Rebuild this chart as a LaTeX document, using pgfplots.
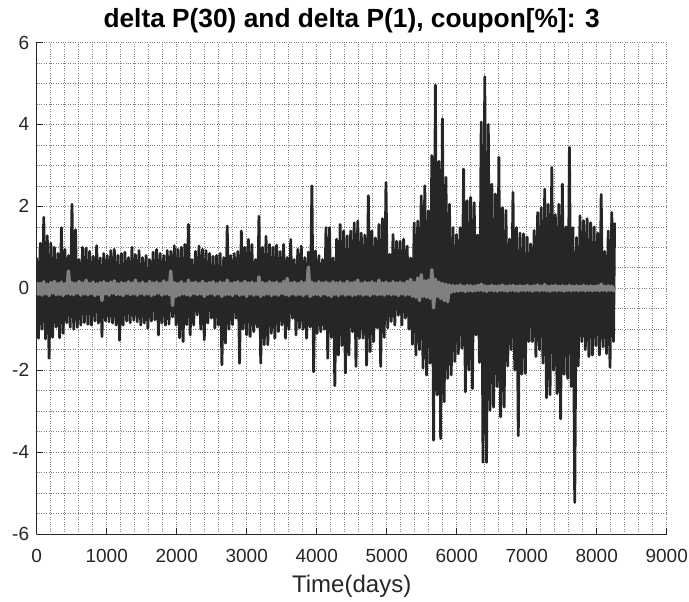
\documentclass[border=0pt]{standalone}
\usepackage{fontspec}
\setmainfont{Liberation Sans}
\usepackage{pgfplots}
\pgfplotsset{compat=1.18}
\definecolor{dk}{RGB}{38,38,38}
\definecolor{lg}{RGB}{128,128,128}
\begin{document}
\begin{tikzpicture}
\begin{axis}[name=ax, scale only axis, width=630pt, height=491.5pt,
  xmin=0, xmax=9000, ymin=-6, ymax=6,
  axis x line*=bottom, axis y line*=left,
  axis line style={dk, line width=0.8pt},
  xtick={0,1000,...,9000},
  xticklabels={0,1000,2000,3000,4000,5000,6000,7000,8000,9000},
  ytick={-6,-4,...,6}, yticklabels={-6,-4,-2,0,2,4,6},
  minor x tick num=4, minor y tick num=3,
  grid=both,
  major grid style={dotted, gray, line width=0.6pt},
  minor grid style={dotted, gray, line width=0.6pt},
  tick align=inside, major tick length=6pt, minor tick length=0pt,
  tick style={dk, line width=0.8pt},
  ticklabel style={font=\fontsize{19}{20}\selectfont, text=dk},
  xticklabel style={anchor=center, inner sep=0pt, yshift=-21.7pt},
  yticklabel style={anchor=east, inner sep=0pt, xshift=-7.4pt},
  xlabel={Time(days)},
  xlabel style={font=\fontsize{24}{26}\selectfont, text=dk,
    at={(axis description cs:0.5,0)}, anchor=center, yshift=-52pt},
  title={delta P(30) and delta P(1), coupon[\%]: 3},
  title style={font=\fontsize{26.3}{28}\selectfont\bfseries},
]
\addplot[dk, line width=2.8pt, line join=round] coordinates {
(0,0.75)(25.2,-1.22)(50.4,1.1)(75.6,-1.0)(100.8,1.73)(126,-1.24)(151.2,1.28)(176.4,-1.71)(201.6,1.1)(226.8,-1.2)
(252,1.0)(277.2,-0.95)(302.4,0.85)(327.6,-1.21)(352.8,1.48)(378,-1.1)(403.2,0.95)(428.4,-0.84)(453.6,0.8)(478.8,-0.95)
(504,2.05)(529.2,-1.0)(554.4,1.43)(579.6,-0.95)(604.8,0.7)(630,-0.9)(655.2,1.0)(680.4,-0.84)(705.6,0.98)(730.8,-0.88)
(756,0.9)(781.2,-0.9)(806.4,0.78)(831.6,-0.8)(856.8,1.04)(882,-0.85)(907.2,0.74)(932.4,-1.18)(957.6,0.85)(982.8,-0.8)
(1008,0.8)(1033.2,-0.82)(1058.4,0.92)(1083.6,-0.85)(1108.8,0.95)(1134,-0.9)(1159.2,0.8)(1184.4,-1.27)(1209.6,0.85)(1234.8,-0.9)
(1260,0.88)(1285.2,-0.8)(1310.4,0.75)(1335.6,-0.84)(1360.8,1.0)(1386,-0.78)(1411.2,0.82)(1436.4,-0.82)(1461.6,0.92)(1486.8,-0.9)
(1512,0.75)(1537.2,-0.85)(1562.4,0.8)(1587.6,-0.98)(1612.8,0.7)(1638,-0.8)(1663.2,0.88)(1688.4,-0.77)(1713.6,0.95)(1738.8,-1.14)
(1764,0.85)(1789.2,-0.85)(1814.4,0.8)(1839.6,-0.9)(1864.8,0.92)(1890,-0.88)(1915.2,0.9)(1940.4,-0.7)(1965.6,1.04)(1990.8,-0.9)
(2016,0.95)(2041.2,-1.21)(2066.4,1.0)(2091.6,-1.3)(2116.8,1.07)(2142,-0.89)(2167.2,1.56)(2192.4,-1.14)(2217.6,0.7)(2242.8,-0.9)
(2268,0.9)(2293.2,-0.65)(2318.4,1.03)(2343.6,-1.0)(2368.8,0.95)(2394,-1.26)(2419.2,0.92)(2444.4,-0.85)(2469.6,0.85)(2494.8,-0.73)
(2520,0.78)(2545.2,-0.97)(2570.4,0.8)(2595.6,-0.9)(2620.8,0.85)(2646,-1.87)(2671.2,0.75)(2696.4,-1.34)(2721.6,1.52)(2746.8,-1.0)
(2772,0.8)(2797.2,-0.89)(2822.4,0.85)(2847.6,-0.73)(2872.8,0.9)(2898,-1.83)(2923.2,1.4)(2948.4,-1.0)(2973.6,1.0)(2998.8,-1.14)
(3024,1.19)(3049.2,-1.18)(3074.4,1.07)(3099.6,-1.06)(3124.8,0.7)(3150,-0.95)(3175.2,1.76)(3200.4,-1.83)(3225.6,1.0)(3250.8,-1.38)
(3276,1.27)(3301.2,-1.38)(3326.4,1.07)(3351.6,-1.1)(3376.8,1.0)(3402,-1.22)(3427.2,1.05)(3452.4,-1.06)(3477.6,0.9)(3502.8,-0.9)
(3528,1.07)(3553.2,-1.22)(3578.4,0.75)(3603.6,-1.0)(3628.8,1.19)(3654,-0.73)(3679.2,0.7)(3704.4,-1.14)(3729.6,0.95)(3754.8,-0.97)
(3780,1.03)(3805.2,-1.0)(3830.4,0.75)(3855.6,-1.22)(3880.8,0.88)(3906,-0.95)(3931.2,2.5)(3956.4,-2.04)(3981.6,0.91)(4006.8,-1.1)
(4032,0.8)(4057.2,-1.06)(4082.4,0.7)(4107.6,-1.0)(4132.8,1.48)(4158,-1.71)(4183.2,1.48)(4208.4,-1.2)(4233.6,0.74)(4258.8,-2.38)
(4284,1.2)(4309.2,-1.63)(4334.4,1.56)(4359.6,-1.4)(4384.8,1.4)(4410,-2.07)(4435.2,1.28)(4460.4,-1.63)(4485.6,1.4)(4510.8,-1.06)
(4536,1.6)(4561.2,-1.91)(4586.4,1.64)(4611.6,-1.22)(4636.8,1.35)(4662,-1.22)(4687.2,1.3)(4712.4,-1.88)(4737.6,2.26)(4762.8,-1.55)
(4788,1.4)(4813.2,-1.3)(4838.4,1.23)(4863.6,-0.97)(4888.8,1.56)(4914,-1.91)(4939.2,1.7)(4964.4,-1.2)(4989.6,2.58)(5014.8,-0.97)
(5040,0.83)(5065.2,-0.81)(5090.4,1.31)(5115.6,-0.9)(5140.8,1.15)(5166,-0.66)(5191.2,1.15)(5216.4,-0.9)(5241.6,1.2)(5266.8,-0.73)
(5292,1.03)(5317.2,-1.0)(5342.4,0.74)(5367.6,-1.37)(5392.8,1.6)(5418,-1.63)(5443.2,1.64)(5468.4,-1.5)(5493.6,2.26)(5518.8,-1.95)
(5544,2.5)(5569.2,-2.12)(5594.4,1.89)(5619.6,-1.83)(5644.8,3.24)(5670,-3.71)(5695.2,4.96)(5720.4,-2.6)(5745.6,3.1)(5770.8,-3.67)
(5796,4.14)(5821.2,-2.77)(5846.4,2.71)(5871.6,-2.2)(5896.8,2.05)(5922,-2.12)(5947.2,1.48)(5972.4,-1.79)(5997.6,1.31)(6022.8,-1.6)
(6048,1.48)(6073.2,-1.46)(6098.4,2.91)(6123.6,-2.53)(6148.8,2.14)(6174,-2.0)(6199.2,2.22)(6224.4,-2.45)(6249.6,2.09)(6274.8,-1.14)
(6300,1.3)(6325.2,-1.81)(6350.4,4.06)(6375.6,-4.25)(6400.8,5.16)(6426,-4.25)(6451.2,4.0)(6476.4,-2.98)(6501.6,2.54)(6526.8,-2.9)
(6552,2.3)(6577.2,-2.4)(6602.4,3.2)(6627.6,-3.14)(6652.8,1.97)(6678,-2.9)(6703.2,1.9)(6728.4,-1.9)(6753.6,1.2)(6778.8,-1.5)
(6804,2.34)(6829.2,-2.0)(6854.4,1.48)(6879.6,-3.6)(6904.8,1.35)(6930,-2.1)(6955.2,1.33)(6980.4,-2.08)(7005.6,1.25)(7030.8,-1.3)
(7056,1.08)(7081.2,-1.3)(7106.4,1.41)(7131.6,-1.67)(7156.8,1.85)(7182,-1.5)(7207.2,1.97)(7232.4,-1.83)(7257.6,2.42)(7282.8,-2.67)
(7308,2.05)(7333.2,-2.6)(7358.4,2.95)(7383.6,-2.0)(7408.8,1.8)(7434,-2.57)(7459.2,2.05)(7484.4,-3.19)(7509.6,2.54)(7534.8,-2.1)
(7560,1.5)(7585.2,-2.2)(7610.4,3.44)(7635.6,-2.4)(7660.8,1.48)(7686,-5.23)(7711.2,1.24)(7736.4,-1.9)(7761.6,1.77)(7786.8,-1.3)
(7812,1.65)(7837.2,-1.5)(7862.4,1.7)(7887.6,-1.67)(7912.8,1.6)(7938,-1.63)(7963.2,1.5)(7988.4,-1.4)(8013.6,1.35)(8038.8,-1.63)
(8064,2.29)(8089.2,-1.43)(8114.4,0.9)(8139.6,-1.6)(8164.8,1.4)(8190,-1.93)(8215.2,1.85)(8240.4,-1.3)(8255,1.6)
};
\addplot[lg, line width=3.4pt, line join=round] coordinates {
(0,0.15)(25.2,-0.15)(50.4,0.12)(75.6,-0.17)(100.8,0.16)(126,-0.14)(151.2,0.1)(176.4,-0.18)(201.6,0.14)(226.8,-0.12)
(252,0.17)(277.2,-0.16)(302.4,0.12)(327.6,-0.15)(352.8,0.15)(378,-0.18)(403.2,0.11)(428.4,-0.13)(453.6,0.42)(478.8,-0.15)
(504,0.14)(529.2,-0.16)(554.4,0.12)(579.6,-0.12)(604.8,0.17)(630,-0.17)(655.2,0.13)(680.4,-0.14)(705.6,0.2)(730.8,-0.16)
(756,0.12)(781.2,-0.13)(806.4,0.15)(831.6,-0.18)(856.8,0.11)(882,-0.15)(907.2,0.14)(932.4,-0.3)(957.6,0.16)(982.8,-0.14)
(1008,0.12)(1033.2,-0.17)(1058.4,0.15)(1083.6,-0.12)(1108.8,0.18)(1134,-0.16)(1159.2,0.11)(1184.4,-0.15)(1209.6,0.14)(1234.8,-0.18)
(1260,0.12)(1285.2,-0.13)(1310.4,0.16)(1335.6,-0.16)(1360.8,0.13)(1386,-0.14)(1411.2,0.2)(1436.4,-0.17)(1461.6,0.12)(1486.8,-0.13)
(1512,0.15)(1537.2,-0.16)(1562.4,0.11)(1587.6,-0.14)(1612.8,0.17)(1638,-0.18)(1663.2,0.13)(1688.4,-0.15)(1713.6,0.15)(1738.8,-0.12)
(1764,0.12)(1789.2,-0.17)(1814.4,0.18)(1839.6,-0.14)(1864.8,0.14)(1890,-0.16)(1915.2,0.42)(1940.4,-0.42)(1965.6,0.14)(1990.8,-0.2)
(2016,0.12)(2041.2,-0.17)(2066.4,0.16)(2091.6,-0.14)(2116.8,0.11)(2142,-0.16)(2167.2,0.2)(2192.4,-0.18)(2217.6,0.13)(2242.8,-0.13)
(2268,0.15)(2293.2,-0.16)(2318.4,0.12)(2343.6,-0.14)(2368.8,0.17)(2394,-0.2)(2419.2,0.12)(2444.4,-0.15)(2469.6,0.14)(2494.8,-0.13)
(2520,0.16)(2545.2,-0.17)(2570.4,0.11)(2595.6,-0.14)(2620.8,0.15)(2646,-0.2)(2671.2,0.13)(2696.4,-0.16)(2721.6,0.2)(2746.8,-0.15)
(2772,0.12)(2797.2,-0.18)(2822.4,0.14)(2847.6,-0.13)(2872.8,0.16)(2898,-0.17)(2923.2,0.12)(2948.4,-0.15)(2973.6,0.17)(2998.8,-0.2)
(3024,0.13)(3049.2,-0.14)(3074.4,0.15)(3099.6,-0.17)(3124.8,0.12)(3150,-0.15)(3175.2,0.28)(3200.4,-0.2)(3225.6,0.14)(3250.8,-0.16)
(3276,0.12)(3301.2,-0.14)(3326.4,0.16)(3351.6,-0.18)(3376.8,0.13)(3402,-0.15)(3427.2,0.15)(3452.4,-0.17)(3477.6,0.11)(3502.8,-0.13)
(3528,0.17)(3553.2,-0.16)(3578.4,0.24)(3603.6,-0.18)(3628.8,0.13)(3654,-0.14)(3679.2,0.15)(3704.4,-0.17)(3729.6,0.12)(3754.8,-0.15)
(3780,0.16)(3805.2,-0.18)(3830.4,0.13)(3855.6,-0.14)(3880.8,0.52)(3906,-0.2)(3931.2,0.15)(3956.4,-0.16)(3981.6,0.12)(4006.8,-0.15)
(4032,0.16)(4057.2,-0.18)(4082.4,0.13)(4107.6,-0.14)(4132.8,0.15)(4158,-0.17)(4183.2,0.12)(4208.4,-0.2)(4233.6,0.16)(4258.8,-0.15)
(4284,0.13)(4309.2,-0.18)(4334.4,0.15)(4359.6,-0.14)(4384.8,0.12)(4410,-0.17)(4435.2,0.17)(4460.4,-0.15)(4485.6,0.13)(4510.8,-0.18)
(4536,0.15)(4561.2,-0.16)(4586.4,0.2)(4611.6,-0.14)(4636.8,0.12)(4662,-0.17)(4687.2,0.15)(4712.4,-0.15)(4737.6,0.13)(4762.8,-0.18)
(4788,0.16)(4813.2,-0.14)(4838.4,0.12)(4863.6,-0.16)(4888.8,0.2)(4914,-0.15)(4939.2,0.13)(4964.4,-0.17)(4989.6,0.15)(5014.8,-0.14)
(5040,0.12)(5065.2,-0.16)(5090.4,0.16)(5115.6,-0.15)(5140.8,0.13)(5166,-0.18)(5191.2,0.15)(5216.4,-0.14)(5241.6,0.12)(5266.8,-0.17)
(5292,0.17)(5317.2,-0.15)(5342.4,0.22)(5367.6,-0.2)(5392.8,0.14)(5418,-0.22)(5443.2,0.25)(5468.4,-0.3)(5493.6,0.33)(5518.8,-0.2)
(5544,0.18)(5569.2,-0.22)(5594.4,0.2)(5619.6,-0.25)(5644.8,0.45)(5670,-0.48)(5695.2,0.22)(5720.4,-0.2)(5745.6,0.15)(5770.8,-0.25)
(5796,0.12)(5821.2,-0.3)(5846.4,0.1)(5871.6,-0.33)(5896.8,0.08)(5922,-0.1)(5947.2,0.07)(5972.4,-0.08)(5997.6,0.06)(6022.8,-0.07)
(6048,0.08)(6073.2,-0.06)(6098.4,0.05)(6123.6,-0.08)(6148.8,0.07)(6174,-0.06)(6199.2,0.06)(6224.4,-0.07)(6249.6,0.05)(6274.8,-0.06)
(6300,0.07)(6325.2,-0.05)(6350.4,0.1)(6375.6,-0.06)(6400.8,0.06)(6426,-0.08)(6451.2,0.05)(6476.4,-0.05)(6501.6,0.07)(6526.8,-0.06)
(6552,0.05)(6577.2,-0.07)(6602.4,0.06)(6627.6,-0.05)(6652.8,0.08)(6678,-0.06)(6703.2,0.05)(6728.4,-0.07)(6753.6,0.06)(6778.8,-0.05)
(6804,0.07)(6829.2,-0.06)(6854.4,0.05)(6879.6,-0.07)(6904.8,0.06)(6930,-0.05)(6955.2,0.05)(6980.4,-0.06)(7005.6,0.07)(7030.8,-0.05)
(7056,0.05)(7081.2,-0.07)(7106.4,0.06)(7131.6,-0.05)(7156.8,0.08)(7182,-0.06)(7207.2,0.05)(7232.4,-0.05)(7257.6,0.09)(7282.8,-0.06)
(7308,0.05)(7333.2,-0.07)(7358.4,0.06)(7383.6,-0.05)(7408.8,0.07)(7434,-0.06)(7459.2,0.05)(7484.4,-0.05)(7509.6,0.06)(7534.8,-0.07)
(7560,0.05)(7585.2,-0.05)(7610.4,0.07)(7635.6,-0.06)(7660.8,0.05)(7686,-0.05)(7711.2,0.06)(7736.4,-0.06)(7761.6,0.05)(7786.8,-0.05)
(7812,0.07)(7837.2,-0.06)(7862.4,0.05)(7887.6,-0.05)(7912.8,0.06)(7938,-0.06)(7963.2,0.05)(7988.4,-0.05)(8013.6,0.06)(8038.8,-0.06)
(8064,0.1)(8089.2,-0.05)(8114.4,0.05)(8139.6,-0.06)(8164.8,0.06)(8190,-0.05)(8215.2,0.05)(8240.4,-0.06)(8255,0.04)
};
\end{axis}
\pgfresetboundingbox
\path[use as bounding box] ([xshift=-36.7pt,yshift=-67pt]ax.south west) rectangle ([xshift=22.3pt,yshift=42.5pt]ax.north east);
\end{tikzpicture}
\end{document}
